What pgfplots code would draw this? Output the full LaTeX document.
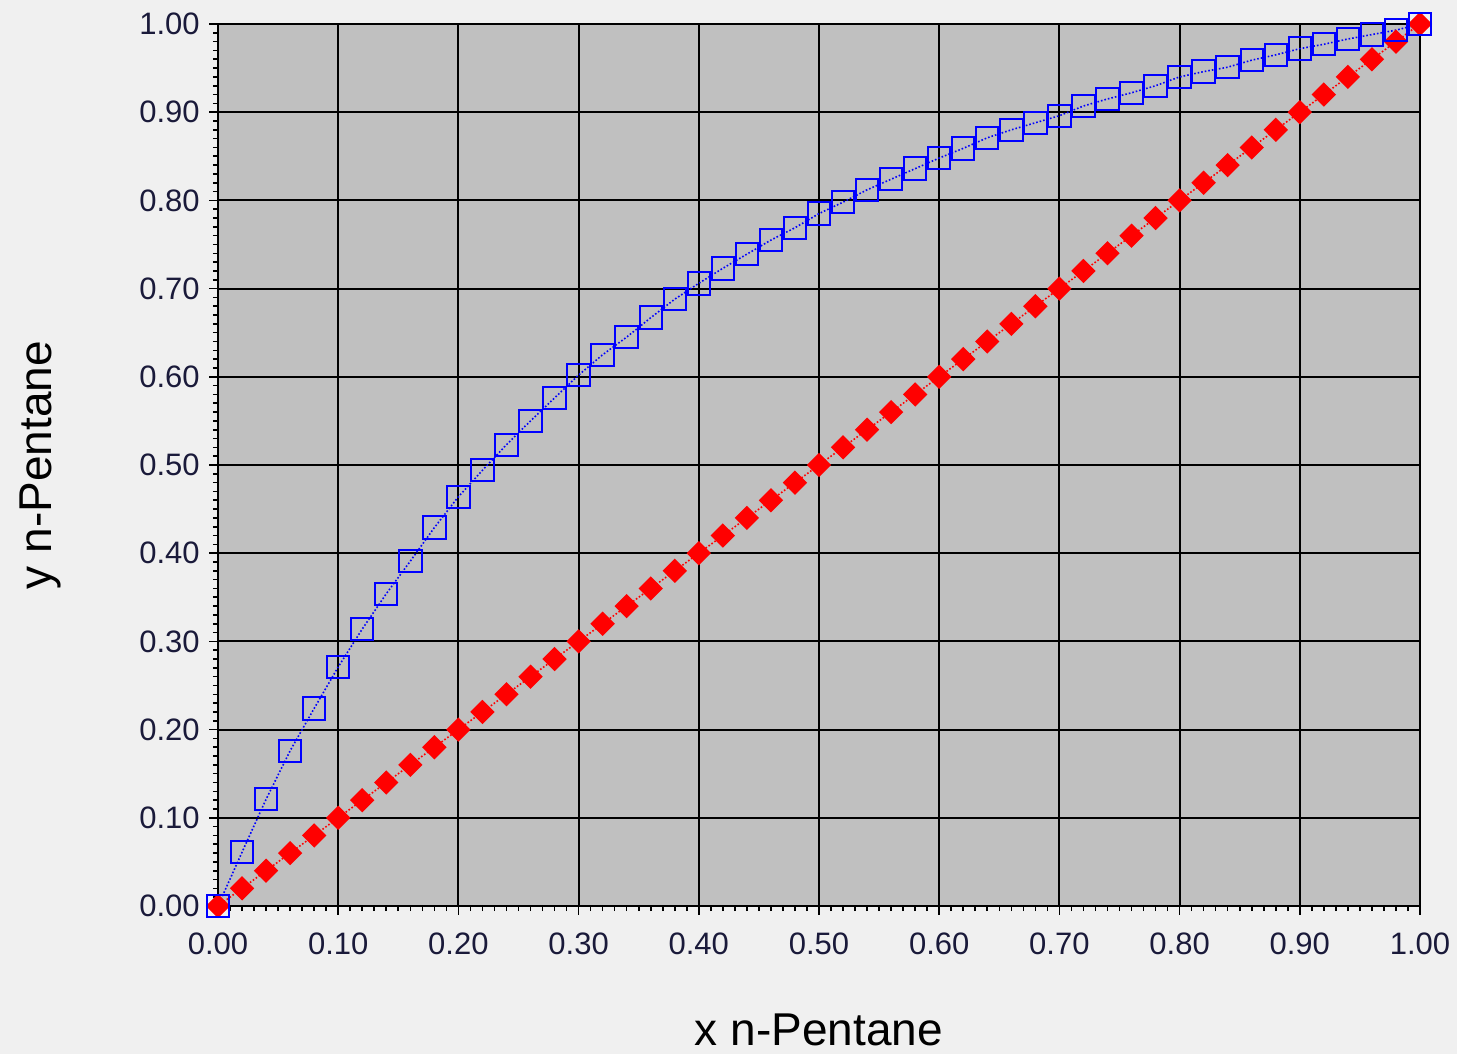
\documentclass[border=0pt]{standalone}
\usepackage{fontspec}
\setmainfont{Liberation Sans}
\usepackage{pgfplots}
\pgfplotsset{compat=1.18}
\definecolor{bgc}{HTML}{F0F0F0}
\definecolor{plotc}{HTML}{C0C0C0}
\definecolor{tickc}{HTML}{1A1A3A}
\begin{document}
\begin{tikzpicture}
\fill[bgc] (-109pt,-74pt) rectangle (619.5pt,453pt);
\begin{axis}[
  scale only axis, width=601pt, height=441pt,
  xmin=0, xmax=1, ymin=0, ymax=1,
  axis background/.style={fill=plotc},
  axis line style={black, line width=1pt},
  xtick={0,0.1,...,1.0}, ytick={0,0.1,...,1.0},
  minor tick num=9,
  tick pos=left, tick align=outside,
  major tick length=4.5pt, minor tick length=2.6pt,
  every tick/.style={black, line width=0.8pt},
  grid=major, major grid style={black, line width=1pt},
  /pgf/number format/assume math mode=true,
  xticklabel={\pgfmathprintnumber[fixed,fixed zerofill,precision=2]{\tick}},
  yticklabel={\pgfmathprintnumber[fixed,fixed zerofill,precision=2]{\tick}},
  ticklabel style={font=\fontsize{15.5pt}{18pt}\selectfont, text=tickc},
  xticklabel style={anchor=north, inner sep=0pt, yshift=-8.5pt},
  yticklabel style={anchor=east, inner sep=0pt, xshift=-4.5pt},
  xlabel={x n-Pentane}, ylabel={y n-Pentane},
  label style={font=\fontsize{23pt}{27pt}\selectfont},
  xlabel style={at={(axis description cs:0.5,-0.1587)}, anchor=base, inner sep=0pt},
  ylabel style={at={(axis description cs:-0.1381,0.5)}, anchor=base, inner sep=0pt},
  clip=false,
]
\addplot[red, line width=0.8pt, densely dotted, mark=square*, mark size=3.9pt,
  mark options={solid, fill=red, draw=red, rotate=45}] coordinates {
(0,0)(0.02,0.02)(0.04,0.04)(0.06,0.06)(0.08,0.08)(0.10,0.10)(0.12,0.12)(0.14,0.14)(0.16,0.16)(0.18,0.18)
(0.20,0.20)(0.22,0.22)(0.24,0.24)(0.26,0.26)(0.28,0.28)(0.30,0.30)(0.32,0.32)(0.34,0.34)(0.36,0.36)(0.38,0.38)
(0.40,0.40)(0.42,0.42)(0.44,0.44)(0.46,0.46)(0.48,0.48)(0.50,0.50)(0.52,0.52)(0.54,0.54)(0.56,0.56)(0.58,0.58)
(0.60,0.60)(0.62,0.62)(0.64,0.64)(0.66,0.66)(0.68,0.68)(0.70,0.70)(0.72,0.72)(0.74,0.74)(0.76,0.76)(0.78,0.78)
(0.80,0.80)(0.82,0.82)(0.84,0.84)(0.86,0.86)(0.88,0.88)(0.90,0.90)(0.92,0.92)(0.94,0.94)(0.96,0.96)(0.98,0.98)(1.00,1.00)
};
\addplot[blue, line width=0.8pt, densely dotted, mark=square, mark size=5.6pt,
  mark options={solid, draw=blue, line width=1pt}] coordinates {
(0,0)(0.02,0.061)(0.04,0.121)(0.06,0.176)(0.08,0.224)(0.10,0.271)(0.12,0.314)(0.14,0.354)(0.16,0.391)(0.18,0.429)
(0.20,0.464)(0.22,0.494)(0.24,0.523)(0.26,0.550)(0.28,0.576)(0.30,0.602)(0.32,0.625)(0.34,0.645)(0.36,0.667)(0.38,0.688)
(0.40,0.706)(0.42,0.723)(0.44,0.739)(0.46,0.755)(0.48,0.769)(0.50,0.785)(0.52,0.798)(0.54,0.812)(0.56,0.824)(0.58,0.836)
(0.60,0.848)(0.62,0.859)(0.64,0.871)(0.66,0.880)(0.68,0.888)(0.70,0.896)(0.72,0.907)(0.74,0.915)(0.76,0.922)(0.78,0.930)
(0.80,0.940)(0.82,0.946)(0.84,0.951)(0.86,0.959)(0.88,0.965)(0.90,0.972)(0.92,0.977)(0.94,0.983)(0.96,0.988)(0.98,0.993)(1.00,1.00)
};
\end{axis}
\pgfresetboundingbox
\path[use as bounding box] (-109pt,-74pt) rectangle (619.5pt,453pt);
\end{tikzpicture}
\end{document}
